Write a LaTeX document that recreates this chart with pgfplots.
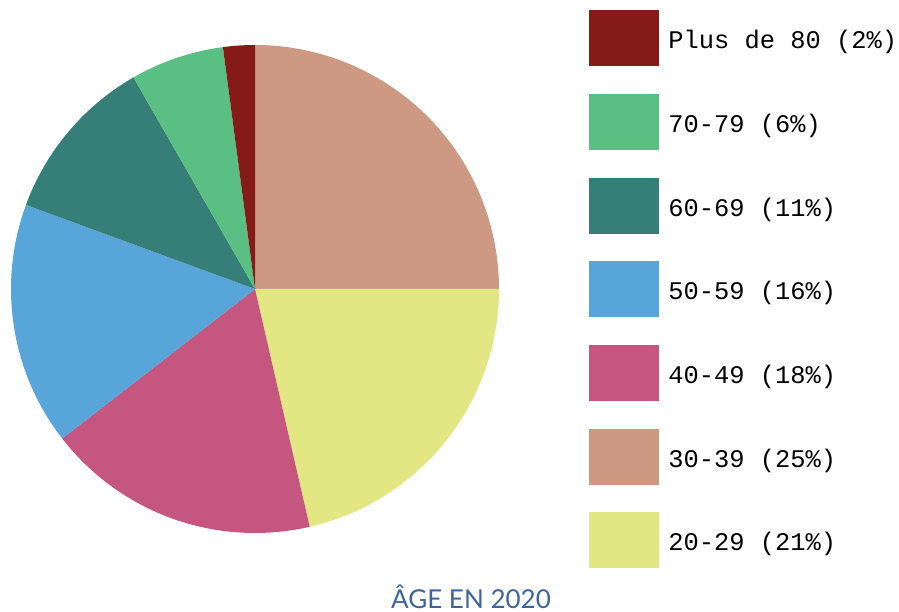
\documentclass[border=0pt]{standalone}
\usepackage{pgfplots}
\pgfplotsset{compat=1.18}
\usepackage{fontspec}
\setmainfont{Lato}
\newfontfamily\monofont{Liberation Mono}
\definecolor{cA}{HTML}{851B19}
\definecolor{cB}{HTML}{5ABF83}
\definecolor{cC}{HTML}{367F78}
\definecolor{cD}{HTML}{58A5DA}
\definecolor{cE}{HTML}{C4567F}
\definecolor{cF}{HTML}{CD9982}
\definecolor{cG}{HTML}{E3E783}
\definecolor{titleblue}{HTML}{3D6599}
% slice shares (percent), clockwise from the top
\def\sF{25}   % 30-39
\def\sG{21.4} % 20-29
\def\sE{18.1} % 40-49
\def\sD{16.1} % 50-59
\def\sC{11.1} % 60-69
\def\sB{6.2}  % 70-79
\def\sA{2.1}  % 80+
\begin{document}
\begin{tikzpicture}
\begin{axis}[
  scale only axis, width=449.5pt, height=305.5pt,
  xmin=0, xmax=899, ymin=0, ymax=611,
  hide axis, clip=false,
]
\def\cx{255}\def\cy{322}\def\R{244}
\pgfmathsetmacro\aZ{90}
\pgfmathsetmacro\aF{\aZ-3.6*\sF}
\pgfmathsetmacro\aG{\aF-3.6*\sG}
\pgfmathsetmacro\aE{\aG-3.6*\sE}
\pgfmathsetmacro\aD{\aE-3.6*\sD}
\pgfmathsetmacro\aC{\aD-3.6*\sC}
\pgfmathsetmacro\aB{\aC-3.6*\sB}
\pgfmathsetmacro\aA{\aB-3.6*\sA}
\addplot[fill=cF, draw=none, domain=\aF:\aZ, samples=80, variable=\t] ({\cx+\R*cos(\t)},{\cy+\R*sin(\t)}) -- (axis cs:\cx,\cy) -- cycle;
\addplot[fill=cG, draw=none, domain=\aG:\aF, samples=80, variable=\t] ({\cx+\R*cos(\t)},{\cy+\R*sin(\t)}) -- (axis cs:\cx,\cy) -- cycle;
\addplot[fill=cE, draw=none, domain=\aE:\aG, samples=80, variable=\t] ({\cx+\R*cos(\t)},{\cy+\R*sin(\t)}) -- (axis cs:\cx,\cy) -- cycle;
\addplot[fill=cD, draw=none, domain=\aD:\aE, samples=80, variable=\t] ({\cx+\R*cos(\t)},{\cy+\R*sin(\t)}) -- (axis cs:\cx,\cy) -- cycle;
\addplot[fill=cC, draw=none, domain=\aC:\aD, samples=60, variable=\t] ({\cx+\R*cos(\t)},{\cy+\R*sin(\t)}) -- (axis cs:\cx,\cy) -- cycle;
\addplot[fill=cB, draw=none, domain=\aB:\aC, samples=40, variable=\t] ({\cx+\R*cos(\t)},{\cy+\R*sin(\t)}) -- (axis cs:\cx,\cy) -- cycle;
\addplot[fill=cA, draw=none, domain=\aA:\aB, samples=20, variable=\t] ({\cx+\R*cos(\t)},{\cy+\R*sin(\t)}) -- (axis cs:\cx,\cy) -- cycle;
% legend
\def\legrow#1#2#3{%
  \fill[#1] (axis cs:589,{611-#2}) rectangle (axis cs:659,{611-#2-56});
  \node[anchor=base west, inner sep=0pt, font=\monofont\fontsize{12.7pt}{14pt}\selectfont] at (axis cs:668,{611-#2-38.3}) {#3};
}
\legrow{cA}{10}{Plus de 80 (2\%)}
\legrow{cB}{94}{70-79 (6\%)}
\legrow{cC}{178}{60-69 (11\%)}
\legrow{cD}{261}{50-59 (16\%)}
\legrow{cE}{345}{40-49 (18\%)}
\legrow{cF}{429}{30-39 (25\%)}
\legrow{cG}{512}{20-29 (21\%)}
\node[anchor=base, inner sep=0pt, text=titleblue, font=\fontsize{13pt}{15pt}\selectfont] at (axis cs:471,3) {ÂGE EN 2020};
\end{axis}
\pgfresetboundingbox
\path (current axis.south west) rectangle (current axis.north east);
\end{tikzpicture}
\end{document}
